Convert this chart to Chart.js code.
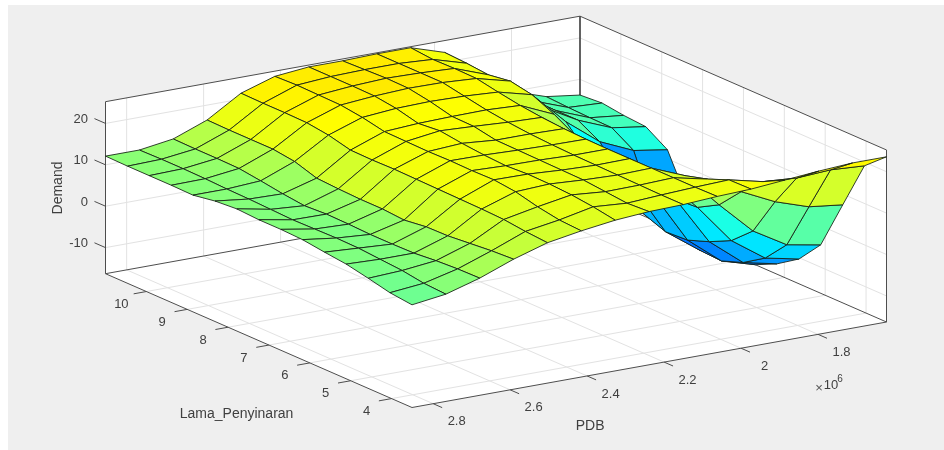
<!DOCTYPE html>
<html>
<head>
<meta charset="utf-8">
<script src="https://cdn.jsdelivr.net/npm/chart.js@4"></script>
<style>
  html, body { margin: 0; background: #fff; }
  #panel { position: absolute; left: 8px; top: 5px; width: 936px; height: 445px; background: #efefef; }
  #chart { position: absolute; left: 0; top: 0; filter: blur(0.35px); }
</style>
</head>
<body>
<div id="panel"></div>
<canvas id="chart" width="944" height="450"></canvas>
<script>
// surface grid, 15 x 15 points (gensurf style), PDB in units of 10^6
const pdbGrid = [2.855, 2.767, 2.679, 2.591, 2.503, 2.415, 2.327, 2.239, 2.15, 2.062, 1.974, 1.886, 1.798, 1.71, 1.622];
const lamaGrid = [11, 10.46, 9.93, 9.39, 8.86, 8.32, 7.79, 7.25, 6.71, 6.18, 5.64, 5.11, 4.57, 4.04, 3.5];

// Demand, one row per lamaGrid value, one column per pdbGrid value
const demand = [
  [12.1, 12.1, 13.3, 16.4, 21.4, 24.0, 24.8, 24.8, 25, 25, 22.4, 15, 10, 7.3, 6.2],
  [12, 12.2, 13.2, 16.3, 21.3, 24.2, 24.8, 25, 25, 24.5, 22.1, 15, 10, 7, 6.6],
  [12, 12.2, 13.2, 16.3, 21.3, 24.1, 24.8, 25.2, 25, 24.6, 21.6, 15, 10, 6.8, 5.9],
  [12, 12.1, 13.1, 16.3, 21.2, 24, 24.7, 25.1, 25, 24.5, 22.4, 14.5, 10, 6.7, 5.5],
  [11.9, 11.9, 12.4, 15.6, 20.5, 23.3, 24, 24.2, 24, 23.5, 21.4, 13.4, 7.1, 3.5, 2.2],
  [12.8, 11.8, 11.6, 13.9, 19.2, 22.2, 22.7, 22.9, 23, 22.6, 19, 8, 0, -10, -9],
  [13.2, 11.6, 11, 13.6, 19.1, 22.1, 23.2, 22.8, 22.3, 22, 16, 6, -5.7, -12.2, -14],
  [12.9, 11.4, 11.3, 13.4, 19.2, 22, 22.5, 21.8, 21.8, 21.6, 14.5, 5, -7.7, -13.6, -15.8],
  [12.9, 11.5, 11.2, 13.4, 19.1, 22.1, 22, 21.7, 21.5, 21.4, 14.5, 5, -7.4, -13.9, -16.3],
  [12.7, 11.6, 11, 13, 19, 22, 21.7, 21.6, 21.3, 21.3, 14.5, 6.3, -5.5, -12, -13.8],
  [12, 11.5, 11, 13.7, 18.9, 22.1, 22, 21.5, 21.2, 21.3, 15, 6.6, -2.9, -8.6, -10.3],
  [11.4, 11.1, 11.1, 13.8, 18.8, 21.5, 21.9, 21.4, 21.1, 21.3, 18, 9.5, 1.7, -3.1, -4.6],
  [10.3, 10.7, 11.6, 14.3, 18.6, 20.2, 21.6, 20.9, 21, 21.3, 19.5, 15, 11.1, 8.4, 7.4],
  [9.1, 9.9, 11.9, 14.8, 18, 19.3, 21, 20.4, 20.9, 21.3, 21.6, 19.7, 19.1, 19.6, 19.1],
  [8.5, 9.6, 12, 15.1, 17.6, 19, 20.1, 20.7, 20.9, 21.4, 21.7, 22.4, 23.1, 23.6, 23.6]
];

const pdbTicks = [2.8, 2.6, 2.4, 2.2, 2, 1.8];
const lamaTicks = [10, 9, 8, 7, 6, 5, 4];
const demandTicks = [20, 10, 0, -10];

const pdbMax = 2.855, pdbMin = 1.622;
const lamaMax = 11, lamaMin = 3.5;
const zMin = -16.3, zMax = 25.25;

// orthographic view of the box, the front floor corner is at pdbMax / lamaMin
function project(p, l, z) {
  const a = (pdbMax - p) / (pdbMax - pdbMin);
  const b = (l - lamaMin) / (lamaMax - lamaMin);
  return {
    x: 412 + a * 474.5 - b * 306.5,
    y: 407.5 - a * 85.5 - b * 133.8 - (z - zMin) * 4.14
  };
}

// jet colormap, cut off a bit above yellow
function jet(z) {
  const t = Math.max(0.645 - (25 - z) * 0.0105, 0.235);
  let r = 0, g = 1, b = 0;
  if (t < 0.375) { g = (t - 0.125) / 0.25; b = 1; }
  else if (t < 0.625) { r = (t - 0.375) / 0.25; b = 1 - r; }
  else { r = 1; g = 1 - (t - 0.625) * 4; }
  return `rgb(${Math.round(r * 255)}, ${Math.round(g * 255)}, ${Math.round(b * 255)})`;
}

const datasets = [];

function addLine(points, color, width) {
  datasets.push({
    data: points, showLine: true, fill: false, borderColor: color, borderWidth: width,
    pointRadius: 0, tension: 0
  });
}

function addPoly(points, fillColor, lineColor, width) {
  datasets.push({
    data: points.concat([points[0]]), showLine: true, fill: 'shape', backgroundColor: fillColor,
    borderColor: lineColor, borderWidth: width, borderJoinStyle: 'round', pointRadius: 0, tension: 0
  });
}

// walls and floor
const wallWhite = '#ffffff';
addPoly([project(pdbMax, lamaMax, zMin), project(pdbMax, lamaMax, zMax), project(pdbMin, lamaMax, zMax), project(pdbMin, lamaMax, zMin)], wallWhite, wallWhite, 0);
addPoly([project(pdbMin, lamaMax, zMin), project(pdbMin, lamaMax, zMax), project(pdbMin, lamaMin, zMax), project(pdbMin, lamaMin, zMin)], wallWhite, wallWhite, 0);
addPoly([project(pdbMax, lamaMax, zMin), project(pdbMin, lamaMax, zMin), project(pdbMin, lamaMin, zMin), project(pdbMax, lamaMin, zMin)], wallWhite, wallWhite, 0);

// grid lines
const gridColor = '#e2e2e2';
pdbTicks.forEach(p => {
  addLine([project(p, lamaMin, zMin), project(p, lamaMax, zMin), project(p, lamaMax, zMax)], gridColor, 1);
});
lamaTicks.forEach(l => {
  addLine([project(pdbMax, l, zMin), project(pdbMin, l, zMin), project(pdbMin, l, zMax)], gridColor, 1);
});
demandTicks.forEach(z => {
  addLine([project(pdbMax, lamaMax, z), project(pdbMin, lamaMax, z), project(pdbMin, lamaMin, z)], gridColor, 1);
});

// box outline
const boxColor = '#4d4d4d';
addLine([project(pdbMax, lamaMax, zMin), project(pdbMax, lamaMax, zMax), project(pdbMin, lamaMax, zMax), project(pdbMin, lamaMin, zMax), project(pdbMin, lamaMin, zMin), project(pdbMax, lamaMin, zMin), project(pdbMax, lamaMax, zMin), project(pdbMin, lamaMax, zMin), project(pdbMin, lamaMin, zMin)], boxColor, 1);
addLine([project(pdbMin, lamaMax, zMax), project(pdbMin, lamaMax, zMin)], boxColor, 1);

// tick marks
pdbTicks.forEach(p => addLine([project(p, lamaMin, zMin), project(p, lamaMin - 0.22, zMin + 0)], boxColor, 1));
lamaTicks.forEach(l => addLine([project(pdbMax, l, zMin), project(pdbMax + 0.033, l, zMin)], boxColor, 1));
demandTicks.forEach(z => addLine([project(pdbMax, lamaMax, z), project(pdbMax, lamaMax + 0.27, z)], boxColor, 1));

// surface cells, far corner first so nearer ones paint over
for (let i = pdbGrid.length - 2; i >= 0; i--) {
  for (let j = 0; j < lamaGrid.length - 1; j++) {
    addPoly([
      project(pdbGrid[i], lamaGrid[j], demand[j][i]),
      project(pdbGrid[i + 1], lamaGrid[j], demand[j][i + 1]),
      project(pdbGrid[i + 1], lamaGrid[j + 1], demand[j + 1][i + 1]),
      project(pdbGrid[i], lamaGrid[j + 1], demand[j + 1][i])
    ], jet(demand[j + 1][i + 1]), 'rgba(20, 30, 20, 0.85)', 1);
  }
}

const axisText = {
  id: 'axisText',
  afterDatasetsDraw(chart) {
    const c = chart.ctx;
    const sx = chart.scales.x, sy = chart.scales.y;
    const put = (text, pt, dx, dy, align) => {
      c.textAlign = align || 'center';
      c.fillText(text, sx.getPixelForValue(pt.x) + dx, sy.getPixelForValue(pt.y) + dy);
    };
    c.save();
    c.fillStyle = '#404040';
    c.textBaseline = 'middle';
    c.font = '13px "Liberation Sans"';
    demandTicks.forEach(z => put(String(z), project(pdbMax, lamaMax, z), -17.5, -4.2, 'right'));
    lamaTicks.forEach(l => put(String(l), project(pdbMax, l, zMin), -25, 13));
    pdbTicks.forEach(p => put(String(p), project(p, lamaMin, zMin), 23.5, 18));
    c.font = '14px "Liberation Sans"';
    put('PDB', project(2.4, lamaMin, zMin), 3, 50.5);
    put('Lama_Penyinaran', project(pdbMax, 6.9, zMin), -36.5, 67.5);
    c.font = '13px "Liberation Sans"';
    c.fillStyle = '#555555';
    put('\u00d7', project(1.8, lamaMin, zMin), 1, 54);
    c.fillStyle = '#404040';
    put('10', project(1.8, lamaMin, zMin), 13, 51);
    c.font = '10px "Liberation Sans"';
    put('6', project(1.8, lamaMin, zMin), 22, 45);
    c.font = '14px "Liberation Sans"';
    c.translate(58, 188);
    c.rotate(-Math.PI / 2);
    c.textAlign = 'center';
    c.fillText('Demand', 0, 0);
    c.restore();
  }
};

// Chart.js paints the first dataset last, so flip the list
new Chart(document.getElementById('chart'), {
  type: 'scatter',
  data: { datasets: datasets.reverse() },
  options: {
    responsive: false,
    animation: false,
    layout: { padding: 0 },
    plugins: { legend: { display: false }, tooltip: { enabled: false }, title: { display: false } },
    scales: {
      x: { type: 'linear', min: 0, max: 944, display: false },
      y: { type: 'linear', min: 0, max: 450, reverse: true, display: false }
    }
  },
  plugins: [axisText]
});
</script>
</body>
</html>
